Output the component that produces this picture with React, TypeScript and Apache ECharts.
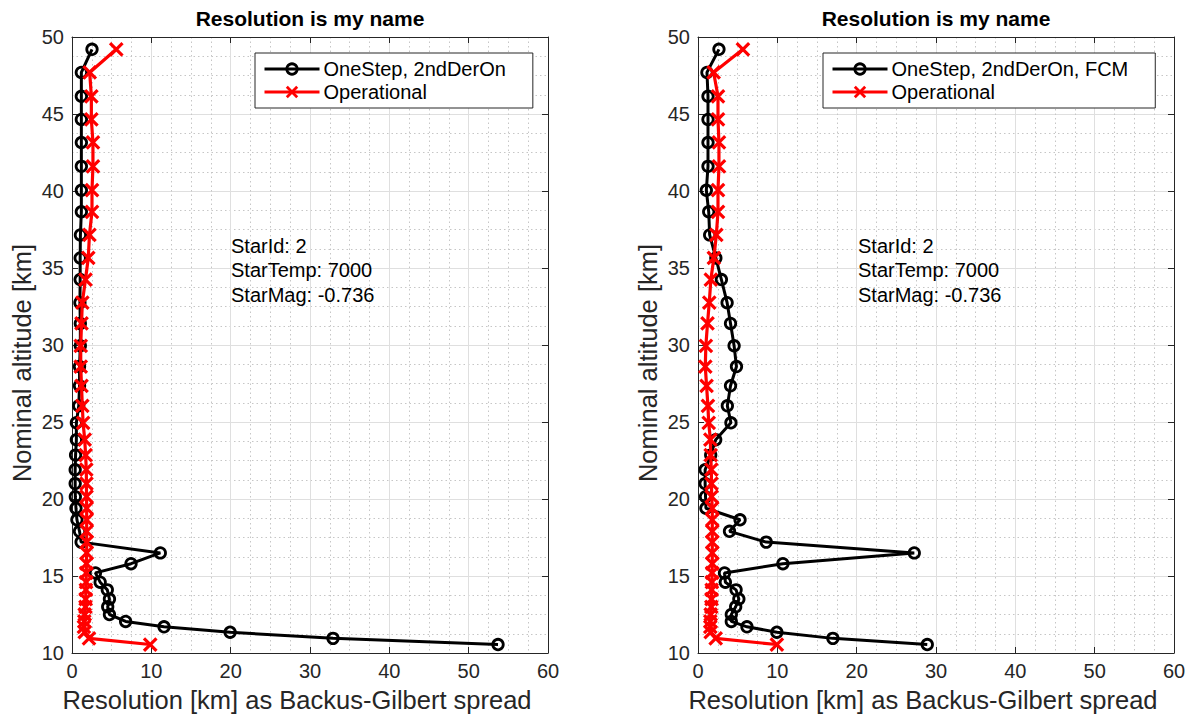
import React, { useEffect, useRef } from "react";
import * as echarts from "echarts";

// Retrieval altitudes shared by every profile (km), top to bottom
const altitudeKm = [
  49.2, 47.7, 46.15, 44.65, 43.15, 41.6, 40.05, 38.65, 37.15, 35.65, 34.25, 32.75,
  31.4, 29.95, 28.6, 27.35, 26.05, 24.95, 23.85, 22.85, 21.9, 21.0, 20.15, 19.4,
  18.65, 17.9, 17.2, 16.5, 15.8, 15.2, 14.6, 14.1, 13.5, 13.0, 12.5, 12.05, 11.7,
  11.35, 10.95, 10.55,
];

// Left panel: resolution (km)
const leftOneStep = [
  2.52, 1.18, 1.18, 1.18, 1.18, 1.18, 1.18, 1.18, 1.06, 1.03, 1.03, 1.0, 1.05,
  1.05, 0.95, 0.95, 0.85, 0.55, 0.55, 0.45, 0.4, 0.4, 0.42, 0.5, 0.62, 0.95, 1.15,
  11.13, 7.44, 2.95, 3.55, 4.45, 4.72, 4.5, 4.72, 6.76, 11.6, 19.93, 32.9, 53.7,
];
const leftOperational = [
  5.58, 2.23, 2.44, 2.44, 2.64, 2.64, 2.52, 2.52, 2.2, 2.05, 1.7, 1.3, 1.2, 1.1,
  1.1, 1.2, 1.3, 1.4, 1.6, 1.72, 1.8, 1.82, 1.83, 1.85, 1.85, 1.85, 1.85, 1.85,
  1.82, 1.8, 1.78, 1.75, 1.72, 1.7, 1.6, 1.55, 1.5, 1.6, 2.14, 9.86,
];

// Right panel: resolution (km)
const rightOneStep = [
  2.64, 1.13, 1.26, 1.26, 1.26, 1.26, 1.05, 1.35, 1.47, 2.25, 2.95, 3.67, 4.1,
  4.55, 4.85, 4.1, 3.7, 4.15, 2.23, 1.6, 0.9, 0.9, 0.95, 1.0, 5.3, 3.97, 8.6, 27.26,
  10.7, 3.34, 3.45, 4.8, 5.15, 4.75, 4.2, 4.2, 6.17, 9.94, 17.0, 28.9,
];
const rightOperational = [
  5.66, 1.97, 2.52, 2.52, 2.64, 2.64, 2.52, 2.52, 2.31, 2.0, 1.62, 1.42, 1.2, 0.99,
  0.92, 1.08, 1.25, 1.35, 1.56, 1.6, 1.68, 1.7, 1.72, 1.8, 1.8, 1.8, 1.8, 1.8, 1.8,
  1.78, 1.75, 1.72, 1.7, 1.68, 1.6, 1.55, 1.55, 1.6, 2.23, 9.94,
];

const leftNames = ["OneStep, 2ndDerOn", "Operational"];
const rightNames = ["OneStep, 2ndDerOn, FCM", "Operational"];

const panelTitle = "Resolution is my name";
const xAxisTitle = "Resolution [km] as Backus-Gilbert spread";
const yAxisTitle = "Nominal altitude [km]";
const starInfo = ["StarId: 2", "StarTemp: 7000", "StarMag: -0.736"];

const xMin = 0;
const xMax = 60;
const xStep = 10;
const yMin = 10;
const yMax = 50;
const yStep = 5;

const FONT = "'Liberation Sans', Arial, Helvetica, sans-serif";
const AXIS_COLOR = "#262626";

const panels = [
  { left: 72, top: 37, width: 476, height: 616 },
  { left: 698, top: 37, width: 476, height: 616 },
];

function makeXAxes(gi: number) {
  const common = {
    type: "value",
    gridIndex: gi,
    min: xMin,
    max: xMax,
    interval: xStep,
    axisLine: { show: true, onZero: false, lineStyle: { color: AXIS_COLOR, width: 1 } },
    axisTick: { show: true, inside: true, length: 6, lineStyle: { color: AXIS_COLOR, width: 1 } },
  };
  return [
    {
      ...common,
      position: "bottom",
      axisLabel: { show: true, color: AXIS_COLOR, fontSize: 20, fontFamily: FONT, margin: 8 },
      splitLine: { show: true, lineStyle: { color: "#dfdfdf", width: 1 } },
      minorTick: { show: false, splitNumber: 4 },
      minorSplitLine: { show: true, lineStyle: { color: "#c6c6c6", width: 1, type: [1.5, 3] } },
      name: xAxisTitle,
      nameLocation: "middle",
      nameGap: 34,
      nameTextStyle: {
        fontSize: 25.5,
        color: AXIS_COLOR,
        fontFamily: FONT,
        padding: [0, 26, 0, 0],
      },
    },
    {
      ...common,
      position: "top",
      axisLabel: { show: false },
      splitLine: { show: false },
    },
  ];
}

function makeYAxes(gi: number) {
  const common = {
    type: "value",
    gridIndex: gi,
    min: yMin,
    max: yMax,
    interval: yStep,
    axisLine: { show: true, onZero: false, lineStyle: { color: AXIS_COLOR, width: 1 } },
    axisTick: { show: true, inside: true, length: 6, lineStyle: { color: AXIS_COLOR, width: 1 } },
  };
  return [
    {
      ...common,
      position: "left",
      axisLabel: { show: true, color: AXIS_COLOR, fontSize: 20, fontFamily: FONT, margin: 8 },
      splitLine: { show: true, lineStyle: { color: "#dfdfdf", width: 1 } },
      minorTick: { show: false, splitNumber: 4 },
      minorSplitLine: { show: true, lineStyle: { color: "#c6c6c6", width: 1, type: [1.5, 3] } },
      name: yAxisTitle,
      nameLocation: "middle",
      nameGap: 37,
      nameTextStyle: {
        fontSize: 25.5,
        color: AXIS_COLOR,
        fontFamily: FONT,
        padding: [0, 36, 0, 0],
      },
    },
    {
      ...common,
      position: "right",
      axisLabel: { show: false },
      splitLine: { show: false },
    },
  ];
}

function oneStepSeries(name: string, values: number[], gi: number) {
  return {
    type: "line",
    name,
    xAxisIndex: gi * 2,
    yAxisIndex: gi * 2,
    data: altitudeKm.map((a, i) => [values[i], a]),
    symbol: "circle",
    symbolSize: 10.5,
    showAllSymbol: true,
    lineStyle: { color: "#000", width: 3 },
    itemStyle: { color: "rgba(0,0,0,0)", borderColor: "#000", borderWidth: 2.8 },
    z: 3,
  };
}

function operationalSeries(name: string, values: number[], gi: number) {
  return {
    type: "line",
    name,
    xAxisIndex: gi * 2,
    yAxisIndex: gi * 2,
    data: altitudeKm.map((a, i) => [values[i], a]),
    symbol: "path://M0 0L10 10M10 0L0 10",
    symbolSize: 12.5,
    showAllSymbol: true,
    lineStyle: { color: "#ff0000", width: 3.2 },
    itemStyle: { color: "#ff0000", borderColor: "#ff0000", borderWidth: 3.2 },
    z: 4,
  };
}

function legendFor(names: string[], left: number) {
  return {
    data: names,
    left,
    top: 53,
    orient: "vertical",
    itemWidth: 55,
    itemHeight: 13,
    itemGap: 3,
    padding: [6, 27, 6, 8],
    borderColor: AXIS_COLOR,
    borderWidth: 1,
    backgroundColor: "#fff",
    selectedMode: false,
    lineStyle: { width: 3 },
    itemStyle: { borderWidth: 2.8 },
    textStyle: { fontSize: 20, color: "#000", fontFamily: FONT, padding: [0, 0, 0, -1] },
  };
}

function panelTexts(gi: number, infoX: number) {
  const p = panels[gi];
  const cx = p.left + p.width / 2;
  const items: any[] = [
    {
      type: "text",
      x: cx,
      y: 18,
      z: 100,
      style: {
        text: panelTitle,
        fill: "#000",
        font: `bold 21px ${FONT}`,
        align: "center",
        verticalAlign: "middle",
      },
    },
  ];
  starInfo.forEach((line, i) => {
    items.push({
      type: "text",
      x: infoX,
      y: 246 + i * 24.3,
      z: 100,
      style: {
        text: line,
        fill: "#000",
        font: `20px ${FONT}`,
        align: "left",
        verticalAlign: "middle",
      },
    });
  });
  return items;
}

export default function App() {
  const ref = useRef<HTMLDivElement | null>(null);

  useEffect(() => {
    if (!ref.current) return;
    const chart = echarts.init(ref.current, undefined, { renderer: "svg" });
    chart.setOption({
      animation: false,
      backgroundColor: "#fff",
      textStyle: { fontFamily: FONT },
      grid: panels.map((p) => ({ ...p, containLabel: false })),
      xAxis: [...makeXAxes(0), ...makeXAxes(1)],
      yAxis: [...makeYAxes(0), ...makeYAxes(1)],
      legend: [legendFor(leftNames, 255), legendFor(rightNames, 823)],
      series: [
        oneStepSeries(leftNames[0], leftOneStep, 0),
        operationalSeries(leftNames[1], leftOperational, 0),
        oneStepSeries(rightNames[0], rightOneStep, 1),
        operationalSeries(rightNames[1], rightOperational, 1),
      ],
      graphic: [...panelTexts(0, 231), ...panelTexts(1, 858)],
    });
    return () => chart.dispose();
  }, []);

  return (
    <div
      ref={ref}
      style={{ position: "fixed", left: 0, top: 0, width: 1192, height: 718, background: "#fff" }}
    />
  );
}
